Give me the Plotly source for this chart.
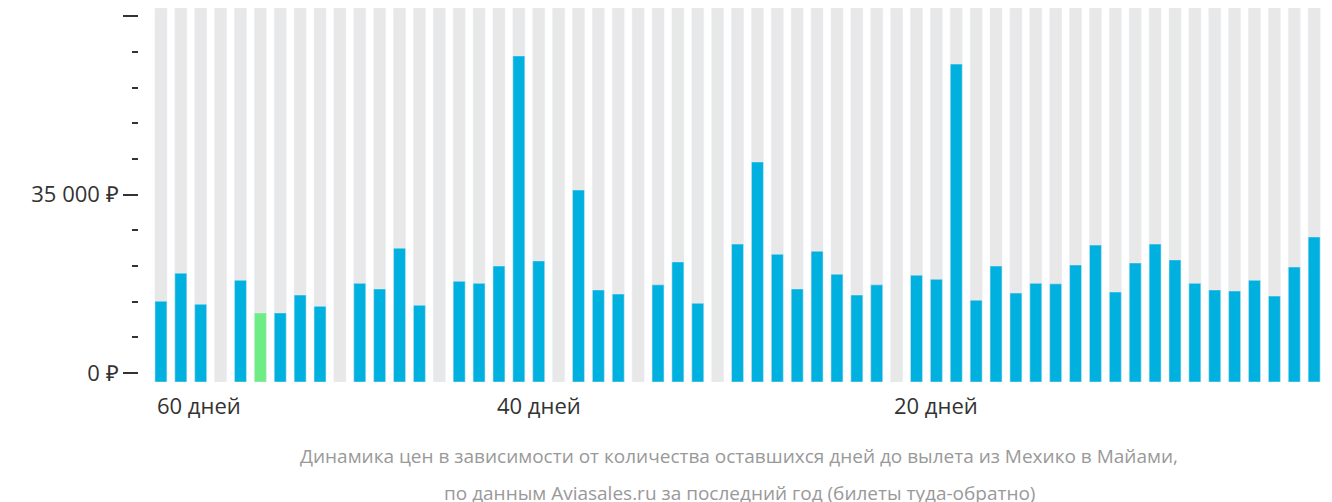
import plotly.graph_objects as go

days = list(range(59, -1, -1))
prices = [14100, 19600, 13500, None, 18200, 11800, 11800, 15300, 13100, None,
          17600, 16500, 24500, 13300, None, 18000, 17600, 21000, 62200, 22000,
          None, 35900, 16300, 15500, None, 17300, 21800, 13700, None, 25300,
          41400, 23300, 16500, 23900, 19400, 15300, 17300, None, 19200, 18400,
          60600, 14300, 21000, 15700, 17600, 17500, 21200, 25100, 15900, 21600,
          25300, 22200, 17600, 16300, 16100, 18200, 15100, 20800, 26700, 25500]
cheapest_day = 54
x_labels = {59: "60 дней", 40: "40 дней", 20: "20 дней", 0: "0 дней"}
caption = ["Динамика цен в зависимости от количества оставшихся дней до вылета из Мехико в Майами,",
           "по данным Aviasales.ru за последний год (билеты туда-обратно)"]

base = -1750
top = 71600
idx = list(range(len(days)))
colors = ["#6ded84" if d == cheapest_day else "#00b0de" for d in days]

fig = go.Figure()
fig.add_bar(x=idx, y=[top - base] * len(idx), base=base, width=0.6,
            marker_color="#e8e8e8", hoverinfo="skip")
fig.add_bar(x=idx, y=[p - base if p is not None else None for p in prices],
            base=base, width=0.6, marker_color=colors,
            customdata=days, hovertemplate="%{customdata} дней<extra></extra>")

fig.update_layout(
    width=1332, height=502, barmode="overlay", showlegend=False,
    plot_bgcolor="white", paper_bgcolor="white",
    margin=dict(l=130, r=0, t=0, b=128, autoexpand=False),
    font=dict(family="Open Sans", color="#333"),
    xaxis=dict(domain=[0.0075, 1], range=[-0.7, 59.3], showticklabels=False,
               showgrid=False, zeroline=False, automargin=False),
    yaxis=dict(anchor="free", position=0, range=[base, top], automargin=False,
               tickvals=[0, 35000, 70000],
               ticktext=["0 ₽", "35 000 ₽", "70 000 ₽"],
               ticks="outside", ticklen=15, tickwidth=2, tickcolor="#333",
               tickfont=dict(size=22, color="#333"),
               minor=dict(tickvals=[v for v in range(7000, 70000, 7000) if v != 35000],
                          ticks="outside", ticklen=6, tickwidth=2, tickcolor="#333"),
               showgrid=False, zeroline=False, showline=False),
)

for i, d in enumerate(days):
    if d in x_labels:
        anchor = "left" if d == 59 else ("right" if d == 0 else "center")
        xv = i - 0.3 if d == 59 else (i + 0.35 if d == 0 else i)
        fig.add_annotation(x=xv, y=-0.015, xref="x", yref="paper", yanchor="top",
                           xanchor=anchor, text=x_labels[d], showarrow=False,
                           font=dict(size=22, color="#333"))

for k, line in enumerate(caption):
    fig.add_annotation(x=0.5, y=-0.157 - k * 0.099, xref="paper", yref="paper",
                       yanchor="top", showarrow=False, text=line,
                       font=dict(size=19, color="#999"))

fig.write_html("out.html")
